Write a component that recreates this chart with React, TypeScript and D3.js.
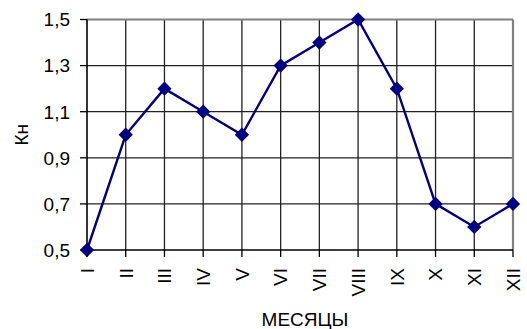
import React from "react";
import * as d3 from "d3";

const months = ["I", "II", "III", "IV", "V", "VI", "VII", "VIII", "IX", "X", "XI", "XII"];
const values = [0.5, 1.0, 1.2, 1.1, 1.0, 1.3, 1.4, 1.5, 1.2, 0.7, 0.6, 0.7];
const yTicks = [0.5, 0.7, 0.9, 1.1, 1.3, 1.5];
const yTitle = "Кн";
const xTitle = "МЕСЯЦЫ";

const W = 527;
const H = 329;
const m = { left: 87, right: 14, top: 19.5, bottom: 79 };
const FONT = "'Liberation Sans', Arial, sans-serif";

export default function App() {
  const x = d3
    .scalePoint<string>()
    .domain(months)
    .range([m.left, W - m.right]);
  const y = d3.scaleLinear().domain([0.5, 1.5]).range([H - m.bottom, m.top]);
  const fmt = (v: number) => d3.format(".1f")(v).replace(".", ",");

  const line = d3
    .line<number>()
    .x((_, i) => x(months[i]) as number)
    .y((d) => y(d));

  const diamond = d3.symbol().type(d3.symbolDiamond2).size(130)();

  const x0 = m.left;
  const x1 = W - m.right;
  const y0 = H - m.bottom;
  const y1 = m.top;

  return (
    <svg
      width={W}
      height={H}
      style={{ position: "absolute", left: 0, top: 0, background: "#fff" }}
      fontFamily={FONT}
    >
      {yTicks.slice(1, -1).map((t) => (
        <line key={"hg" + t} x1={x0} x2={x1} y1={y(t)} y2={y(t)} stroke="#222" strokeWidth={1.3} />
      ))}
      {months.slice(1, -1).map((mo) => (
        <line key={"vg" + mo} x1={x(mo)} x2={x(mo)} y1={y1} y2={y0} stroke="#222" strokeWidth={1.3} />
      ))}
      <line x1={x0} x2={x1} y1={y1} y2={y1} stroke="#808080" strokeWidth={2.2} />
      <line x1={x1} x2={x1} y1={y1} y2={y0} stroke="#808080" strokeWidth={2.2} />
      <line x1={x0} x2={x0} y1={y1} y2={y0} stroke="#000" strokeWidth={1.6} />
      <line x1={x0} x2={x1} y1={y0} y2={y0} stroke="#000" strokeWidth={1.6} />
      {yTicks.map((t) => (
        <g key={"yt" + t}>
          <line x1={x0 - 7} x2={x0} y1={y(t)} y2={y(t)} stroke="#000" strokeWidth={1.3} />
          <text x={x0 - 17} y={y(t)} dy="0.36em" textAnchor="end" fontSize={19} fill="#000">
            {fmt(t)}
          </text>
        </g>
      ))}
      {months.map((mo) => (
        <g key={"xt" + mo}>
          <line x1={x(mo)} x2={x(mo)} y1={y0} y2={y0 + 7} stroke="#000" strokeWidth={1.3} />
          <text
            transform={`translate(${x(mo)},${y0 + 18}) rotate(-90)`}
            dy="0.36em"
            textAnchor="end"
            fontSize={19}
            fill="#000"
          >
            {mo}
          </text>
        </g>
      ))}
      <path d={line(values) || ""} fill="none" stroke="#000080" strokeWidth={2.4} />
      {values.map((v, i) => (
        <path
          key={"pt" + i}
          d={diamond || ""}
          transform={`translate(${x(months[i])},${y(v)})`}
          fill="#000080"
        />
      ))}
      <text
        transform={`translate(21,${(y0 + y1) / 2}) rotate(-90)`}
        dy="0.36em"
        textAnchor="middle"
        fontSize={19}
        fill="#000"
      >
        {yTitle}
      </text>
      <text x={(x0 + x1) / 2 + 5} y={325.5} textAnchor="middle" fontSize={19} fill="#000">
        {xTitle}
      </text>
    </svg>
  );
}
